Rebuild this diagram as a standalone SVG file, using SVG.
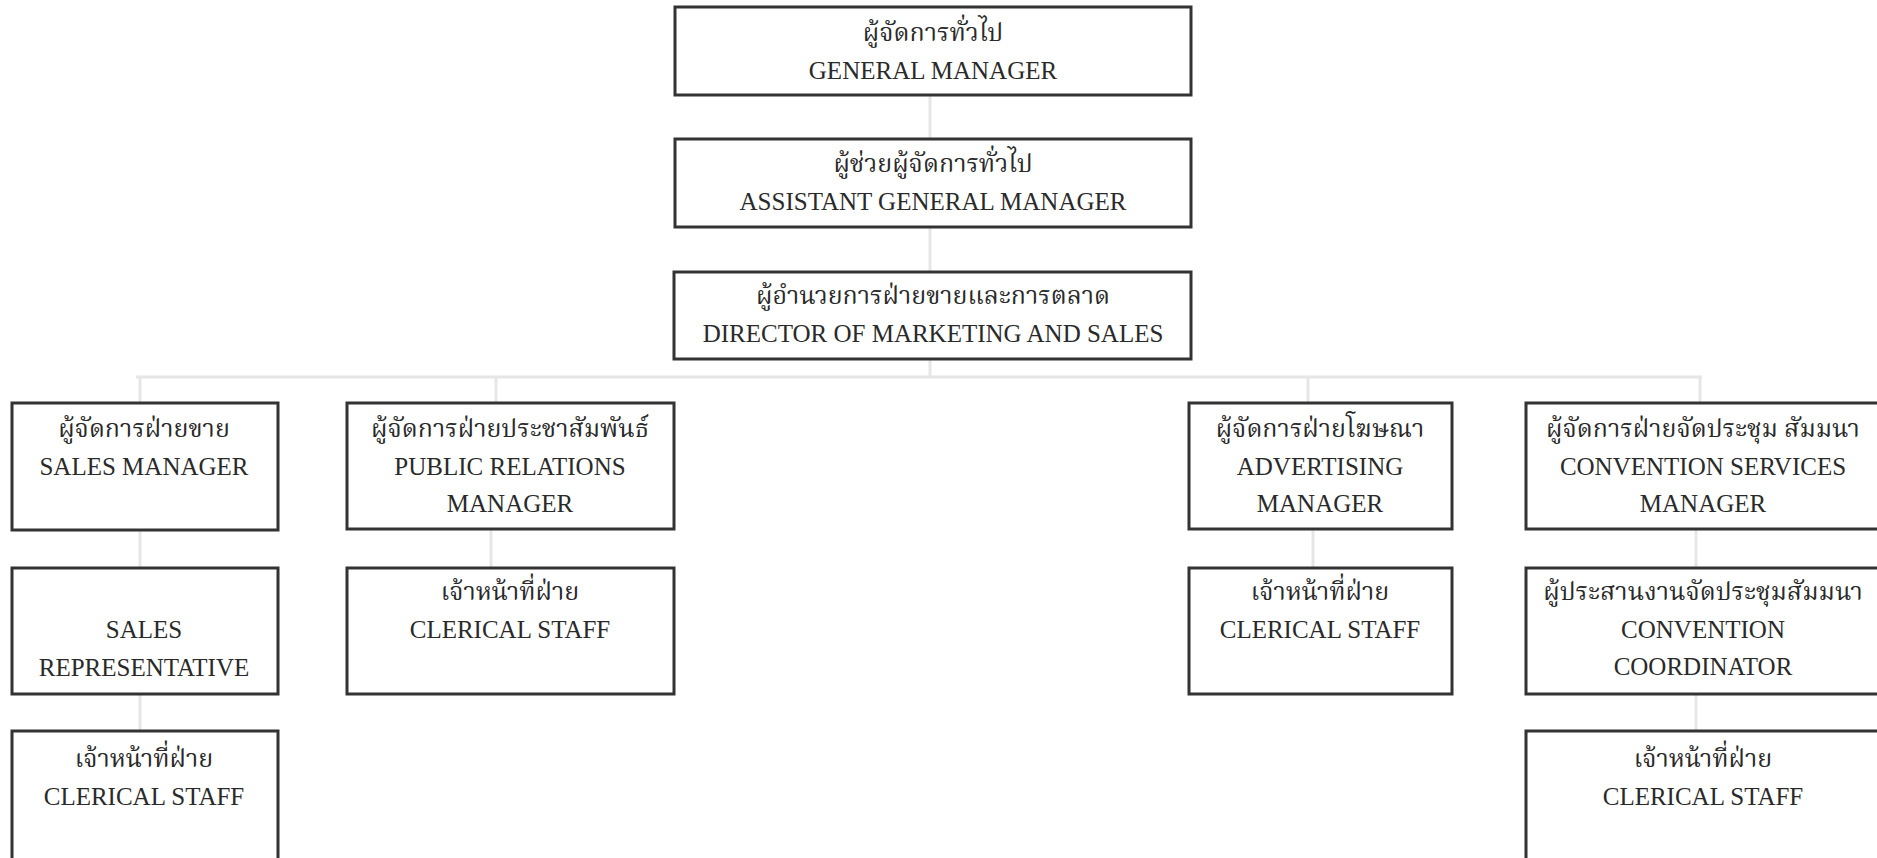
<svg xmlns="http://www.w3.org/2000/svg" width="1877" height="858" viewBox="0 0 1877 858">
<style>
.box{fill:#fff;stroke:#333;stroke-width:3}
.conn{stroke:#e6e6e6;stroke-width:3;fill:none}
text{font-family:"Liberation Serif","Noto Serif Thai","Noto Sans Thai","Norasi","Garuda",serif;font-size:25px;fill:#2a2a2a;text-anchor:middle}
</style>
<rect width="1877" height="858" fill="#fff"/>
<g id="connectors">
<line class="conn" x1="930" y1="95" x2="930" y2="138"/>
<line class="conn" x1="930" y1="227" x2="930" y2="272"/>
<line class="conn" x1="930" y1="359" x2="930" y2="377"/>
<line class="conn" x1="136" y1="377" x2="1702" y2="377"/>
<line class="conn" x1="140" y1="377" x2="140" y2="403"/>
<line class="conn" x1="496" y1="377" x2="496" y2="403"/>
<line class="conn" x1="1308" y1="377" x2="1308" y2="403"/>
<line class="conn" x1="1700" y1="377" x2="1700" y2="403"/>
<line class="conn" x1="140" y1="530" x2="140" y2="568"/>
<line class="conn" x1="140" y1="694" x2="140" y2="731"/>
<line class="conn" x1="491" y1="530" x2="491" y2="568"/>
<line class="conn" x1="1313" y1="530" x2="1313" y2="568"/>
<line class="conn" x1="1696" y1="530" x2="1696" y2="568"/>
<line class="conn" x1="1696" y1="694" x2="1696" y2="731"/>
</g>
<g id="gm">
<rect class="box" x="675" y="7" width="516" height="88"/>
<text x="933" y="41">ผู้จัดการทั่วไป</text>
<text x="933" y="79">GENERAL MANAGER</text>
</g>
<g id="agm">
<rect class="box" x="675" y="139" width="516" height="88"/>
<text x="933" y="172">ผู้ช่วยผู้จัดการทั่วไป</text>
<text x="933" y="210">ASSISTANT GENERAL MANAGER</text>
</g>
<g id="dms">
<rect class="box" x="674" y="272" width="517" height="87"/>
<text x="933" y="304">ผู้อำนวยการฝ่ายขายและการตลาด</text>
<text x="933" y="342">DIRECTOR OF MARKETING AND SALES</text>
</g>
<g id="sales-manager">
<rect class="box" x="12" y="403" width="266" height="127"/>
<text x="144" y="437">ผู้จัดการฝ่ายขาย</text>
<text x="144" y="475">SALES MANAGER</text>
</g>
<g id="pr-manager">
<rect class="box" x="347" y="403" width="327" height="126"/>
<text x="510" y="437">ผู้จัดการฝ่ายประชาสัมพันธ์</text>
<text x="510" y="475">PUBLIC RELATIONS</text>
<text x="510" y="512">MANAGER</text>
</g>
<g id="adv-manager">
<rect class="box" x="1189" y="403" width="263" height="126"/>
<text x="1320" y="437">ผู้จัดการฝ่ายโฆษณา</text>
<text x="1320" y="475">ADVERTISING</text>
<text x="1320" y="512">MANAGER</text>
</g>
<g id="cs-manager">
<rect class="box" x="1526" y="403" width="356" height="126"/>
<text x="1703" y="437">ผู้จัดการฝ่ายจัดประชุม สัมมนา</text>
<text x="1703" y="475">CONVENTION SERVICES</text>
<text x="1703" y="512">MANAGER</text>
</g>
<g id="sales-rep">
<rect class="box" x="12" y="568" width="266" height="126"/>
<text x="144" y="638">SALES</text>
<text x="144" y="676">REPRESENTATIVE</text>
</g>
<g id="pr-clerical">
<rect class="box" x="347" y="568" width="327" height="126"/>
<text x="510" y="600">เจ้าหน้าที่ฝ่าย</text>
<text x="510" y="638">CLERICAL STAFF</text>
</g>
<g id="adv-clerical">
<rect class="box" x="1189" y="568" width="263" height="126"/>
<text x="1320" y="600">เจ้าหน้าที่ฝ่าย</text>
<text x="1320" y="638">CLERICAL STAFF</text>
</g>
<g id="conv-coordinator">
<rect class="box" x="1526" y="568" width="356" height="126"/>
<text x="1703" y="600">ผู้ประสานงานจัดประชุมสัมมนา</text>
<text x="1703" y="638">CONVENTION</text>
<text x="1703" y="675">COORDINATOR</text>
</g>
<g id="sales-clerical">
<rect class="box" x="12" y="731" width="266" height="140"/>
<text x="144" y="767">เจ้าหน้าที่ฝ่าย</text>
<text x="144" y="805">CLERICAL STAFF</text>
</g>
<g id="conv-clerical">
<rect class="box" x="1526" y="731" width="356" height="140"/>
<text x="1703" y="767">เจ้าหน้าที่ฝ่าย</text>
<text x="1703" y="805">CLERICAL STAFF</text>
</g>
</svg>
